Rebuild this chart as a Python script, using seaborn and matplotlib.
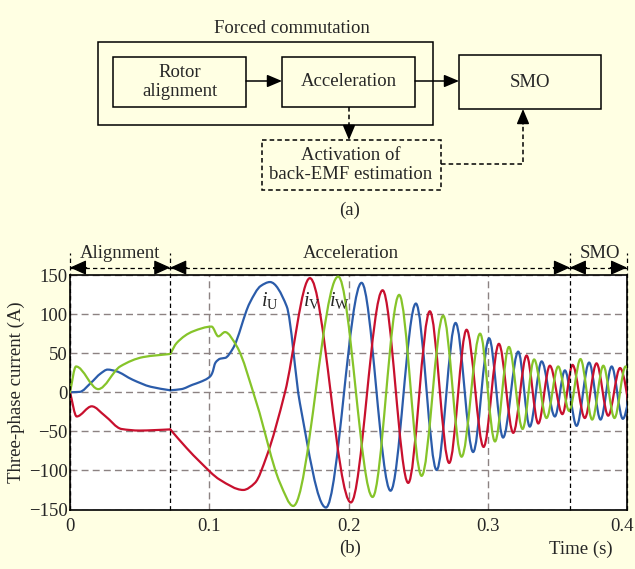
import numpy as np
import matplotlib.pyplot as plt
import seaborn as sns
from matplotlib.path import Path
import matplotlib.patches as mpatches
import matplotlib.transforms as mtransforms

# knots: time (s), current (A)
# U phase (blue)
t_u = [0, 0.007, 0.015, 0.022, 0.027, 0.033, 0.045, 0.058, 0.072,
       0.080, 0.088, 0.0933, 0.1005, 0.102, 0.1045, 0.108, 0.1115, 0.117, 0.129, 0.137, 0.1436,
       0.1556, 0.1651, 0.1838, 0.2094, 0.2302, 0.2484, 0.2633, 0.2769, 0.2895, 0.301,
       0.311, 0.3219, 0.3302, 0.3387, 0.3482, 0.3554, 0.3638, 0.3728, 0.381, 0.389,
       0.397, 0.405]
i_u = [0, 0.5, 12, 24, 29, 27, 16, 7, 2.5,
       4, 9.6, 13, 20, 24, 38, 43, 44, 56, 114, 136, 141,
       110, -14, -147.5, 140, -126, 113.5, -99.5, 88.7, -76.5, 69,
       -58, 52, -44, 39.5, -31, 28, -43, 38, -35, 33,
       -34, 34]

# V phase (red)
t_v = [0, 0.0048, 0.0156, 0.025, 0.037, 0.05, 0.06, 0.072,
       0.0838, 0.0933, 0.1077, 0.1244, 0.1328, 0.1412, 0.1544, 0.1723,
       0.2017, 0.2245, 0.2429, 0.2584, 0.2723, 0.2848, 0.297, 0.308, 0.3183,
       0.3279, 0.3363, 0.3446, 0.3536, 0.3609, 0.3697, 0.3781, 0.3865, 0.395, 0.4035]
i_v = [0, -31, -18, -30, -47, -49, -48.5, -47.5,
       -71.5, -89, -112, -125, -116, -82, 0, 146,
       -141, 130.5, -116, 103.6, -90.5, 80, -70, 62, -52,
       47, -40, 34, -28, 35, -33, 37, -30, 31, -37]

# W phase (green)
t_w = [0, 0.0043, 0.0203, 0.036, 0.0526, 0.072,
       0.0766, 0.0885, 0.1017, 0.1065, 0.1113, 0.1197, 0.134, 0.1508, 0.1603,
       0.1926, 0.2173, 0.2364, 0.2525, 0.268, 0.2812, 0.2945, 0.3052, 0.3152,
       0.325, 0.3333, 0.3422, 0.3506, 0.3585, 0.3666, 0.375, 0.383, 0.391, 0.399, 0.407]
i_w = [0, 33, 4, 33, 45, 49,
       63, 78, 84, 71.5, 77, 59, -14, -116, -145.5,
       148, -134, 124.6, -107, 98, -82.5, 75, -63, 58,
       -47, 42, -33, 33, -24, 42.5, -35, 34, -33, 33, -33]

T_ALIGN = 0.072
T_SMO = 0.359
phases = ['Alignment', 'Acceleration', 'SMO']
phase_bounds = [0, T_ALIGN, T_SMO, 0.4]
x_ticks = [0, 0.1, 0.2, 0.3, 0.4]
x_ticklabels = ['0', '0.1', '0.2', '0.3', '0.4']
y_ticks = [-150, -100, -50, 0, 50, 100, 150]

sns.set_theme(style='white')
colors = sns.color_palette(['#2b5caa', '#c8102e', '#86c42a'])
plt.rcParams['font.family'] = ['Liberation Serif', 'DejaVu Serif']
plt.rcParams['mathtext.fontset'] = 'custom'
plt.rcParams['mathtext.rm'] = 'Liberation Serif'
plt.rcParams['mathtext.it'] = 'Liberation Serif:italic'
FS = 13.5
BG = '#ffffe3'


def smooth_path(t, y):
    # monotone cubic (Fritsch-Carlson) through the knots, drawn as Bezier segments
    t = np.asarray(t, float)
    y = np.asarray(y, float)
    h = np.diff(t)
    d = np.diff(y) / h
    m = np.zeros_like(y)
    m[0], m[-1] = d[0], d[-1]
    for k in range(1, len(y) - 1):
        if d[k - 1] * d[k] > 0:
            w1 = 2 * h[k] + h[k - 1]
            w2 = h[k] + 2 * h[k - 1]
            m[k] = (w1 + w2) / (w1 / d[k - 1] + w2 / d[k])
    verts = [(t[0], y[0])]
    codes = [Path.MOVETO]
    for k in range(len(h)):
        verts += [(t[k] + h[k] / 3, y[k] + m[k] * h[k] / 3),
                  (t[k + 1] - h[k] / 3, y[k + 1] - m[k + 1] * h[k] / 3),
                  (t[k + 1], y[k + 1])]
        codes += [Path.CURVE4] * 3
    return Path(verts, codes)


fig = plt.figure(figsize=(6.35, 5.69), dpi=100, facecolor=BG)

# ---------- (a) block diagram, drawn in pixel coordinates ----------
ov = fig.add_axes([0, 0, 1, 1])
ov.set_xlim(0, 635)
ov.set_ylim(569, 0)
ov.axis('off')


def box(x0, y0, x1, y1, ls='-'):
    ov.add_patch(mpatches.Rectangle((x0, y0), x1 - x0, y1 - y0, fill=False,
                                    ec='black', lw=1.1, ls=ls))


def head(x0, y0, x1, y1):
    ov.annotate('', xy=(x1, y1), xytext=(x0, y0),
                arrowprops=dict(arrowstyle='-|>,head_length=0.9,head_width=0.38',
                                mutation_scale=10, lw=1.1, color='black',
                                shrinkA=0, shrinkB=0))


box(98, 42, 433, 125)
box(113, 57, 246, 107)
box(282, 57, 415, 107)
box(459, 55, 601, 109)
box(262, 140, 441, 190, ls=(0, (3, 2)))
head(246, 81, 282, 81)
head(415, 81, 459, 81)
ov.plot([349, 349], [107, 128], color='black', lw=1.1, ls=(0, (3, 2)))
head(349, 125, 349, 140)
ov.plot([441, 523, 523], [164, 164, 122], color='black', lw=1.1, ls=(0, (3, 2)))
head(523, 124, 523, 109)

ov.text(292, 28, 'Forced commutation', ha='center', va='center', fontsize=FS)
ov.text(180, 82, 'Rotor\nalignment', ha='center', va='center', fontsize=FS, linespacing=1.2)
ov.text(349, 81, 'Acceleration', ha='center', va='center', fontsize=FS)
ov.text(530, 82, 'SMO', ha='center', va='center', fontsize=FS)
ov.text(351, 165, 'Activation of\nback-EMF estimation', ha='center', va='center',
        fontsize=FS, linespacing=1.2)
ov.text(350, 210, '(a)', ha='center', va='center', fontsize=FS)
ov.text(350, 548, '(b)', ha='center', va='center', fontsize=FS)
ov.text(581, 549, 'Time (s)', ha='center', va='center', fontsize=FS)

# ---------- (b) three-phase currents ----------
ax = fig.add_axes([70 / 635, 1 - 509.5 / 569, 557 / 635, 234.5 / 569])
ax.set_facecolor('white')
ax.set_xlim(0, 0.4)
ax.set_ylim(-150, 150)
ax.set_xticks(x_ticks)
ax.set_xticklabels(x_ticklabels)
ax.set_yticks(y_ticks)
ax.tick_params(length=0, labelsize=FS)
ax.tick_params(axis='x', pad=6)
ax.tick_params(axis='y', pad=1.5)
ax.set_ylabel('Three-phase current (A)', fontsize=FS, labelpad=3)
ax.grid(True, color='#8c8282', ls=(0, (5, 3)), lw=1.0)
for s in ax.spines.values():
    s.set_color('black')
    s.set_linewidth(1.2)

# last tick label sits against the figure edge
last = ax.get_xticklabels()[-1]
last.set_horizontalalignment('right')
last.set_transform(last.get_transform() +
                   mtransforms.ScaledTranslation(7 / 100, 0, fig.dpi_scale_trans))

for (tt, ii), c in zip([(t_u, i_u), (t_v, i_v), (t_w, i_w)], colors):
    k = tt.index(T_ALIGN)
    for a, b in [(0, k + 1), (k, len(tt))]:
        ax.add_patch(mpatches.PathPatch(smooth_path(tt[a:b], ii[a:b]), fill=False,
                                        ec=c, lw=1.6, joinstyle='round', capstyle='round',
                                        zorder=3))

ax.text(0.1436, 118, r'$i_{\mathrm{U}}$', ha='center', va='center', fontsize=14.5, zorder=4)
ax.text(0.1735, 118, r'$i_{\mathrm{V}}$', ha='center', va='center', fontsize=14.5, zorder=4)
ax.text(0.1935, 118, r'$i_{\mathrm{W}}$', ha='center', va='center', fontsize=14.5, zorder=4)

# phase markers above the plot
y_arr = 159.5
for tb in phase_bounds:
    ax.plot([tb, tb], [-150, 178], color='black', lw=0.9, ls=(0, (3.5, 2.5)),
            clip_on=False, zorder=4)
for name, t0, t1 in zip(phases, phase_bounds[:-1], phase_bounds[1:]):
    ax.plot([t0, t1], [y_arr, y_arr], color='black', lw=0.9, ls=(0, (3.5, 2.5)),
            clip_on=False)
    for tip, back in [(t0, t0 + 0.012), (t1, t1 - 0.012)]:
        ax.annotate('', xy=(tip, y_arr), xytext=(back, y_arr), annotation_clip=False,
                    arrowprops=dict(arrowstyle='-|>,head_length=1.0,head_width=0.45',
                                    mutation_scale=10, lw=0.9, color='black',
                                    shrinkA=0, shrinkB=0))
    xc = {'Alignment': 0.036, 'Acceleration': 0.2018, 'SMO': 0.3805}[name]
    ax.text(xc, 178, name, ha='center', va='center', fontsize=FS, clip_on=False)

fig.savefig('out.png', dpi=100, facecolor=BG)
